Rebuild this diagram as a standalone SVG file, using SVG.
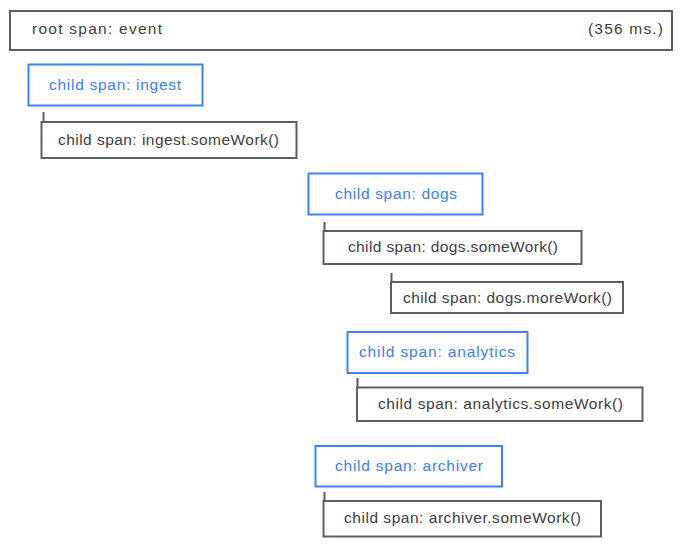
<svg xmlns="http://www.w3.org/2000/svg" width="683" height="547" viewBox="0 0 683 547">
<style>
.bg{fill:#ffffff}
.box{fill:#ffffff;stroke:#5b5e66;stroke-width:2}
.blue{fill:#ffffff;stroke:#3b82f6;stroke-width:2}
.t{font-family:"Liberation Sans","DejaVu Sans",sans-serif;font-size:15.5px;fill:#3d3d45}
.tb{font-family:"Liberation Sans","DejaVu Sans",sans-serif;font-size:15.5px;fill:#3b82f6}
.c{stroke:#5b5e66;stroke-width:2;fill:none}
</style>
<rect class="bg" x="0" y="0" width="683" height="547"/>
<g id="connectors">
<line class="c" x1="43.5" y1="112" x2="43.5" y2="122"/>
<line class="c" x1="324.5" y1="222" x2="324.5" y2="231"/>
<line class="c" x1="391.5" y1="273" x2="391.5" y2="282"/>
<line class="c" x1="357.5" y1="378" x2="357.5" y2="387"/>
<line class="c" x1="324.5" y1="492" x2="324.5" y2="501"/>
</g>
<g id="root">
<rect class="box" x="10" y="11" width="662" height="39"/>
<text class="t" x="32" y="34" textLength="130">root span: event</text>
<text class="t" x="588" y="34" textLength="75">(356 ms.)</text>
</g>
<g id="ingest">
<rect class="blue" x="28.5" y="64.5" width="174" height="41"/>
<text class="tb" x="49" y="90" textLength="132">child span: ingest</text>
</g>
<g id="ingest-somework">
<rect class="box" x="41.5" y="122" width="255" height="36"/>
<text class="t" x="58" y="145" textLength="221">child span: ingest.someWork()</text>
</g>
<g id="dogs">
<rect class="blue" x="308.5" y="173.5" width="174" height="41"/>
<text class="tb" x="335" y="199" textLength="122">child span: dogs</text>
</g>
<g id="dogs-somework">
<rect class="box" x="323.5" y="231" width="258" height="33"/>
<text class="t" x="348" y="252" textLength="210">child span: dogs.someWork()</text>
</g>
<g id="dogs-morework">
<rect class="box" x="391" y="282" width="232" height="31"/>
<text class="t" x="403" y="303" textLength="209">child span: dogs.moreWork()</text>
</g>
<g id="analytics">
<rect class="blue" x="347.5" y="332" width="180" height="41"/>
<text class="tb" x="359" y="357" textLength="156">child span: analytics</text>
</g>
<g id="analytics-somework">
<rect class="box" x="357" y="387.5" width="285.5" height="33.5"/>
<text class="t" x="378" y="409" textLength="245">child span: analytics.someWork()</text>
</g>
<g id="archiver">
<rect class="blue" x="315.5" y="446" width="186.5" height="40.5"/>
<text class="tb" x="335" y="471" textLength="148">child span: archiver</text>
</g>
<g id="archiver-somework">
<rect class="box" x="323.5" y="501" width="277.5" height="35.5"/>
<text class="t" x="344" y="523" textLength="237">child span: archiver.someWork()</text>
</g>
</svg>
